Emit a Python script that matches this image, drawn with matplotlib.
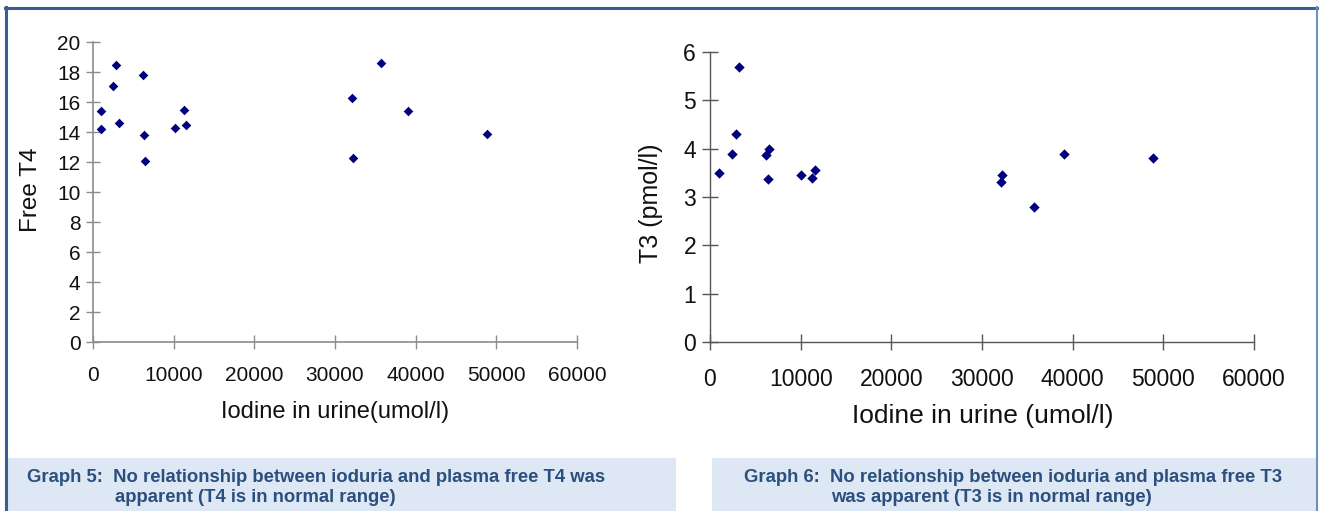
import matplotlib
matplotlib.use("Agg")
import matplotlib.pyplot as plt
from matplotlib.patches import Rectangle
from matplotlib.lines import Line2D

plt.rcParams['font.family'] = ['Liberation Sans', 'DejaVu Sans']

# Graph 5 data: urinary iodine vs free T4
iodine_t4 = [950, 1040, 2440, 2900, 3190, 6200, 6370, 6490, 10120, 11240, 11530,
             32060, 32180, 35690, 39000, 48830]
free_t4 = [15.4, 14.2, 17.1, 18.5, 14.6, 17.8, 13.8, 12.1, 14.3, 15.5, 14.5,
           16.25, 12.3, 18.6, 15.4, 13.9]

# Graph 6 data: urinary iodine vs T3
iodine_t3 = [980, 2400, 2840, 3230, 6140, 6500, 6380, 10080, 11220, 11540,
             32180, 32060, 35690, 39030, 48850]
t3 = [3.5, 3.9, 4.3, 5.7, 3.87, 4.0, 3.37, 3.45, 3.4, 3.55,
      3.45, 3.31, 2.8, 3.9, 3.8]

x_ticks = [0, 10000, 20000, 30000, 40000, 50000, 60000]
t4_ticks = list(range(0, 21, 2))
t3_ticks = list(range(0, 7))

caption5 = ["Graph 5:  No relationship between ioduria and plasma free T4 was",
            "apparent (T4 is in normal range)"]
caption6 = ["Graph 6:  No relationship between ioduria and plasma free T3",
            "was apparent (T3 is in normal range)"]

W, H = 1319, 511
fig = plt.figure(figsize=(W / 100, H / 100), dpi=100)
fig.patch.set_facecolor('white')

def fx(px):
    return px / W

def fy(py):
    return 1 - py / H

marker_color = '#00007f'
text_color = '#111111'

# ---- left chart ----
ax1 = fig.add_axes([fx(93), fy(342), fx(577) - fx(93), fy(42) - fy(342)])
ax1.scatter(iodine_t4, free_t4, marker='D', s=24, color=marker_color, linewidths=0, zorder=3)
ax1.set_xlim(0, 60000)
ax1.set_ylim(0, 20)
ax1.set_xticks(x_ticks)
ax1.set_yticks(t4_ticks)
ax1.set_xticklabels([str(v) for v in x_ticks])
ax1.set_yticklabels([str(v) for v in t4_ticks])
for s in ['top', 'right']:
    ax1.spines[s].set_visible(False)
for s in ['left', 'bottom']:
    ax1.spines[s].set_color('#8c8c8c')
    ax1.spines[s].set_linewidth(1.2)
ax1.tick_params(axis='both', direction='inout', length=10, width=1.0, color='#8c8c8c',
                labelsize=15, labelcolor=text_color)
ax1.tick_params(axis='x', pad=12)
ax1.tick_params(axis='y', pad=4)
ax1.patch.set_alpha(0)
fig.text(fx(335), fy(412), 'Iodine in urine(umol/l)', fontsize=17, color=text_color,
         ha='center', va='center')
fig.text(fx(31), fy(190), 'Free T4', fontsize=17.5, color=text_color,
         ha='center', va='center', rotation=90)

# ---- right chart ----
ax2 = fig.add_axes([fx(710), fy(342), fx(1254) - fx(710), fy(52) - fy(342)])
ax2.scatter(iodine_t3, t3, marker='D', s=28, color=marker_color, linewidths=0, zorder=3)
ax2.set_xlim(0, 60000)
ax2.set_ylim(0, 6)
ax2.set_xticks(x_ticks)
ax2.set_yticks(t3_ticks)
ax2.set_xticklabels([str(v) for v in x_ticks])
ax2.set_yticklabels([str(v) for v in t3_ticks])
for s in ['top', 'right']:
    ax2.spines[s].set_visible(False)
for s in ['left', 'bottom']:
    ax2.spines[s].set_color('#555555')
    ax2.spines[s].set_linewidth(1.0)
ax2.tick_params(axis='both', direction='inout', length=12, width=1.0, color='#555555',
                labelsize=16.5, labelcolor=text_color)
ax2.tick_params(axis='x', pad=13)
ax2.tick_params(axis='y', pad=4)
ax2.patch.set_alpha(0)
fig.text(fx(983), fy(416), 'Iodine in urine (umol/l)', fontsize=19, color=text_color,
         ha='center', va='center')
fig.text(fx(651), fy(203), 'T3 (pmol/l)', fontsize=18, color=text_color,
         ha='center', va='center', rotation=90)

# ---- caption boxes ----
box_color = '#dde8f4'
fig.patches.append(Rectangle((fx(8), 0), fx(676) - fx(8), fy(458), transform=fig.transFigure,
                             facecolor=box_color, edgecolor='none', zorder=0))
fig.patches.append(Rectangle((fx(712), 0), fx(1316) - fx(712), fy(458), transform=fig.transFigure,
                             facecolor=box_color, edgecolor='none', zorder=0))

cap_color = '#2b4f7e'
cap_kw = dict(fontsize=13.3, fontweight='bold', color=cap_color, va='center', ha='left')
fig.text(fx(27), fy(478), caption5[0], **cap_kw)
fig.text(fx(115), fy(498), caption5[1], **cap_kw)
fig.text(fx(744), fy(478), caption6[0], **cap_kw)
fig.text(fx(831), fy(498), caption6[1], **cap_kw)

# ---- frame border ----
border = '#3a5d96'
fig.lines.append(Line2D([fx(5), fx(1318)], [fy(8), fy(8)], transform=fig.transFigure,
                        color=border, linewidth=2.2))
fig.lines.append(Line2D([fx(6), fx(6)], [fy(7), 0], transform=fig.transFigure,
                        color=border, linewidth=2.2))
fig.lines.append(Line2D([fx(1317), fx(1317)], [fy(7), 0], transform=fig.transFigure,
                        color='#6f8fc0', linewidth=1.5))

fig.savefig('out.png', dpi=100)
